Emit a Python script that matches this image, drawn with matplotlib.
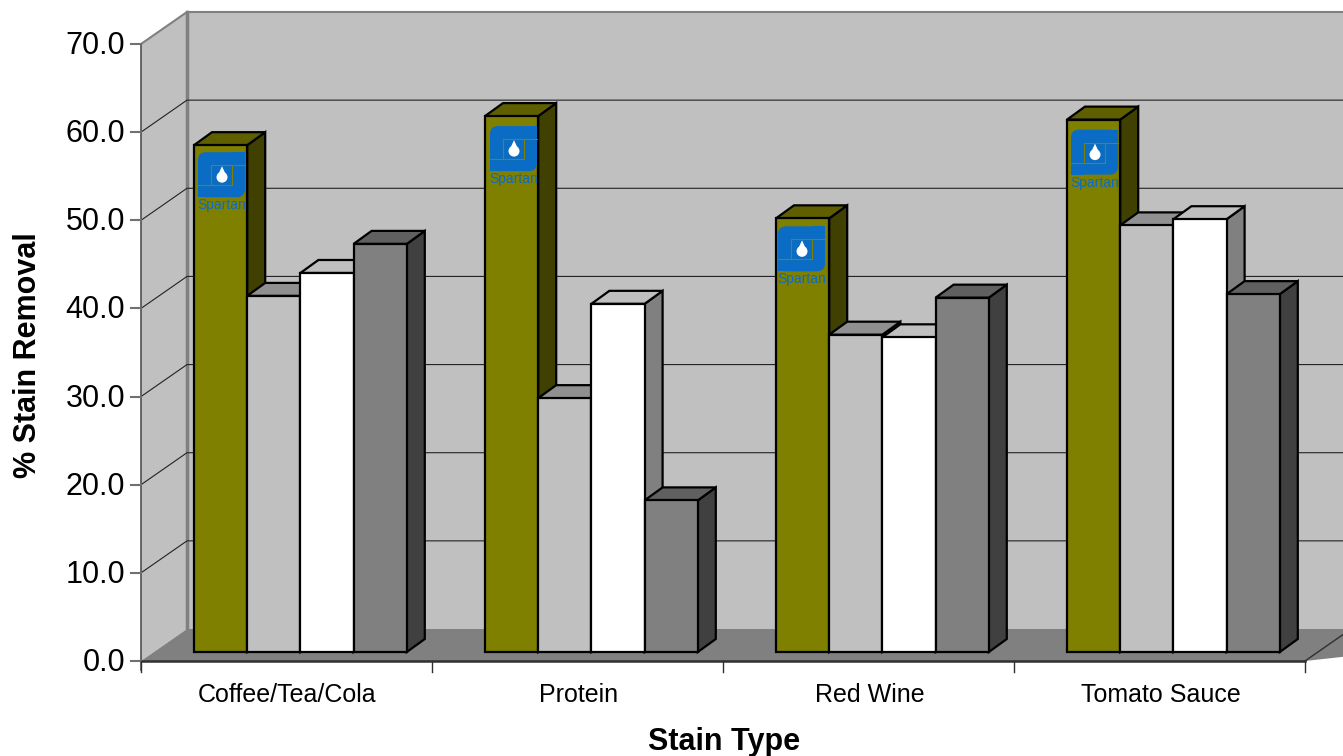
import matplotlib
matplotlib.use("Agg")
import matplotlib.pyplot as plt
from matplotlib.patches import Polygon, FancyBboxPatch, Rectangle, Ellipse

plt.rcParams['font.family'] = ['Liberation Sans', 'DejaVu Sans']

categories = ["Coffee/Tea/Cola", "Protein", "Red Wine", "Tomato Sauce"]
yticks = [0, 10, 20, 30, 40, 50, 60, 70]

series_olive = [57.5, 60.8, 49.2, 60.4]
series_silver = [40.4, 28.8, 36.0, 48.4]
series_white = [43.0, 39.5, 35.7, 49.1]
series_grey = [46.3, 17.2, 40.2, 40.6]

# face, top, side colours
styles = [("#808000", "#5f5f00", "#404000"),
          ("#c0c0c0", "#909090", "#606060"),
          ("#ffffff", "#bfbfbf", "#808080"),
          ("#808080", "#606060", "#404040")]
series = [series_olive, series_silver, series_white, series_grey]

# the logo picture does not sit at the same spot on each bar (px)
logo_dx = [4, 5, 2, 4]
logo_dy = [7, 10, 8, 10]

# pixel scale of the front plane
PX_X = 291.0
PX_Y = 617 / 70
X0, Y0 = 141, 661

fig = plt.figure(figsize=(13.43, 7.56), dpi=100, facecolor="white")
ax = fig.add_axes([0, 0, 1, 1])
ax.set_xlim(-X0 / PX_X, (1343 - X0) / PX_X)
ax.set_ylim((Y0 - 756) / PX_Y, Y0 / PX_Y)


def dx(px):
    return px / PX_X


def dy(px):
    return px / PX_Y


# depth of the wall and floor
wall_x, wall_y = dx(46), dy(32)
x_end = 4.0

# walls
ax.add_patch(Polygon([(wall_x, wall_y), (x_end + 1, wall_y), (x_end + 1, 70 + wall_y), (wall_x, 70 + wall_y)],
                     fc="#c0c0c0", ec="none", zorder=1))
ax.add_patch(Polygon([(0, 0), (wall_x, wall_y), (wall_x, 70 + wall_y), (0, 70)],
                     fc="#c0c0c0", ec="none", zorder=1))
ax.add_patch(Polygon([(0, 0), (wall_x, wall_y), (x_end + 1, wall_y), (x_end, 0)],
                     fc="#808080", ec="none", zorder=2))
ax.plot([wall_x, x_end + 1], [70 + wall_y] * 2, color="#808080", lw=1.5, zorder=2)
ax.plot([wall_x, wall_x], [wall_y, 70 + wall_y], color="#808080", lw=2.5, zorder=2)
ax.plot([0, wall_x], [70, 70 + wall_y], color="#808080", lw=1.5, zorder=2)

# gridlines
for t in yticks[1:-1]:
    ax.plot([0, wall_x, x_end + 1], [t, t + wall_y, t + wall_y], color="#222222", lw=0.8, zorder=2)

# axes
ax.plot([0, x_end], [0, 0], color="#303030", lw=1.8, zorder=2)
ax.plot([x_end, x_end + dx(46)], [0, wall_y], color="#303030", lw=1, zorder=2)
ax.plot([0, 0], [-dy(9), 70], color="#505050", lw=1.2, zorder=2)
for t in yticks:
    ax.plot([-dx(10), 0], [t, t], color="#707070", lw=1.5, zorder=2)
    ax.text(-dx(16), t - dy(2), f"{t:.1f}", ha="right", va="center", fontsize=22, color="black")
for i in range(5):
    ax.plot([i, i], [0, -dy(11)], color="#303030", lw=1, zorder=2)

# bars, later series sit on top of the side of the one before
bar_w = dx(53.2)
off = dx(53)
depth_x, depth_y = dx(18), dy(13)
base = dy(9)
for s, vals in enumerate(series):
    face, top, side = styles[s]
    for i, v in enumerate(vals):
        x = i + off + s * bar_w
        y = base + v
        z = 5 + i * 10 + s
        ax.add_patch(Polygon([(x + bar_w, base), (x + bar_w + depth_x, base + depth_y),
                              (x + bar_w + depth_x, y + depth_y), (x + bar_w, y)],
                             fc=side, ec="black", lw=1.6, zorder=z, joinstyle="miter"))
        ax.add_patch(Polygon([(x, y), (x + depth_x, y + depth_y), (x + bar_w + depth_x, y + depth_y), (x + bar_w, y)],
                             fc=top, ec="black", lw=1.6, zorder=z, joinstyle="miter"))
        ax.bar(x, v, width=bar_w, bottom=base, align="edge", color=face, edgecolor="black", lw=1.6, zorder=z + 0.1)

# logos on the olive bars
BLUE = "#0a6cc4"
OLIVE = "#808000"
for i, v in enumerate(series_olive):
    left = i + off + dx(logo_dx[i])
    top = base + v - dy(logo_dy[i])
    z = 5 + i * 10 + 0.5
    w, h = dx(47), dy(45)
    ax.add_patch(FancyBboxPatch((left + dx(8), top - h + dy(8)), w - dx(16), h - dy(16),
                                boxstyle=f"round,pad={dx(8)},rounding_size={dx(8)}",
                                mutation_aspect=PX_X / PX_Y, fc=BLUE, ec="none", zorder=z))
    # square corners top right and bottom left
    ax.add_patch(Rectangle((left + w - dx(13), top - dy(13)), dx(13), dy(13), fc=BLUE, ec="none", zorder=z + 0.1))
    ax.add_patch(Rectangle((left, top - h), dx(13), dy(13), fc=BLUE, ec="none", zorder=z + 0.1))
    # notches of the S
    ax.plot([left + dx(34), left + w], [top - dy(13)] * 2, color=OLIVE, lw=0.8, zorder=z + 0.2)
    ax.plot([left, left + dx(13)], [top - dy(33)] * 2, color=OLIVE, lw=0.8, zorder=z + 0.2)
    ax.add_patch(Rectangle((left + dx(13), top - dy(33)), dx(21), dy(20), fc=BLUE, ec=OLIVE, lw=0.8, zorder=z + 0.2))
    cx, cy = left + dx(24), top - dy(25)
    ax.add_patch(Polygon([(cx - dx(5), cy), (cx, cy + dy(11)), (cx + dx(5), cy)], fc="white", ec="none", zorder=z + 0.3))
    ax.add_patch(Ellipse((cx, cy), dx(11), dy(11), fc="white", ec="none", zorder=z + 0.3))
    ax.text(left + w / 2, top - dy(53), "Spartan", ha="center", va="center", fontsize=10, color=BLUE, zorder=z + 0.3)

# labels
for i, c in enumerate(categories):
    ax.text(i + 0.5 + dx(1), -dy(34), c, ha="center", va="center", fontsize=18, color="black")
ax.text(dx(724 - X0), -dy(81), "Stain Type", ha="center", va="center", fontsize=22, fontweight="bold")
ax.text(-dx(113), dy(661 - 355), "% Stain Removal", ha="center", va="center", rotation=90, fontsize=22, fontweight="bold")

ax.axis("off")
plt.savefig("out.png", dpi=100)
